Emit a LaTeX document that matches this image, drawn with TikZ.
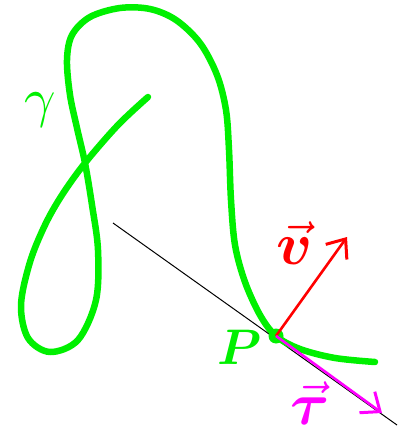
\documentclass[tikz,border=0pt]{standalone}
\usepackage{amsmath,bm,graphicx}
\usetikzlibrary{arrows.meta}
\definecolor{cgreen}{RGB}{0,240,0}
\definecolor{cred}{RGB}{255,0,0}
\definecolor{cmag}{RGB}{255,0,255}
\tikzset{
  curve/.style={cgreen, line width=6.5pt, line cap=round, line join=round},
  vecarrow/.style={line width=2.6pt, -{Straight Barb[length=16pt,width=26pt,line width=3pt]}},
  lbl/.style={inner sep=0pt}
}
\begin{document}
\begin{tikzpicture}[x=1pt,y=-1pt]
\useasboundingbox (0,0) rectangle (398,430);
\coordinate (T0) at (113,223);
\coordinate (T1) at (397,425);
\coordinate (P) at (276,336);
\coordinate (V) at (347,237);
\coordinate (Tau) at (382,413);
\draw[black, line width=1pt] (T0) -- (T1);
\draw[curve] plot[smooth, tension=0.55] coordinates {
 (148,97) (118,125) (85,163) (62,195) (45,225) (30,262) (21,305) (28,338) (50,352) (78,340) (96,300) (98,250) (92,205) (85,163) (77,128) (70,95) (67,60) (72,35) (90,17) (120,8) (150,9) (176,20) (200,43) (217,75) (226,110) (229,150) (231,200) (235,245) (245,282) (260,315) (276,336) (300,349) (335,358) (375,362)};
\fill[cgreen] (P) circle (7.5pt);
\draw[cred, vecarrow] (P) -- (V);
\draw[cmag, vecarrow] (P) -- (Tau);
\node[lbl, cgreen] (gam) at (40,110) {\scalebox{5.5}{$\gamma$}};
\node[lbl, cgreen] (plab) at (240,347) {\scalebox{5}{$\bm{P}$}};
\node[lbl, cred] (vlab) at (295,243) {\scalebox{6}{$\vec{\bm{v}}$}};
\node[lbl, cmag] (tlab) at (310,403) {\scalebox{6}{$\vec{\bm{\tau}}$}};
\end{tikzpicture}
\end{document}
